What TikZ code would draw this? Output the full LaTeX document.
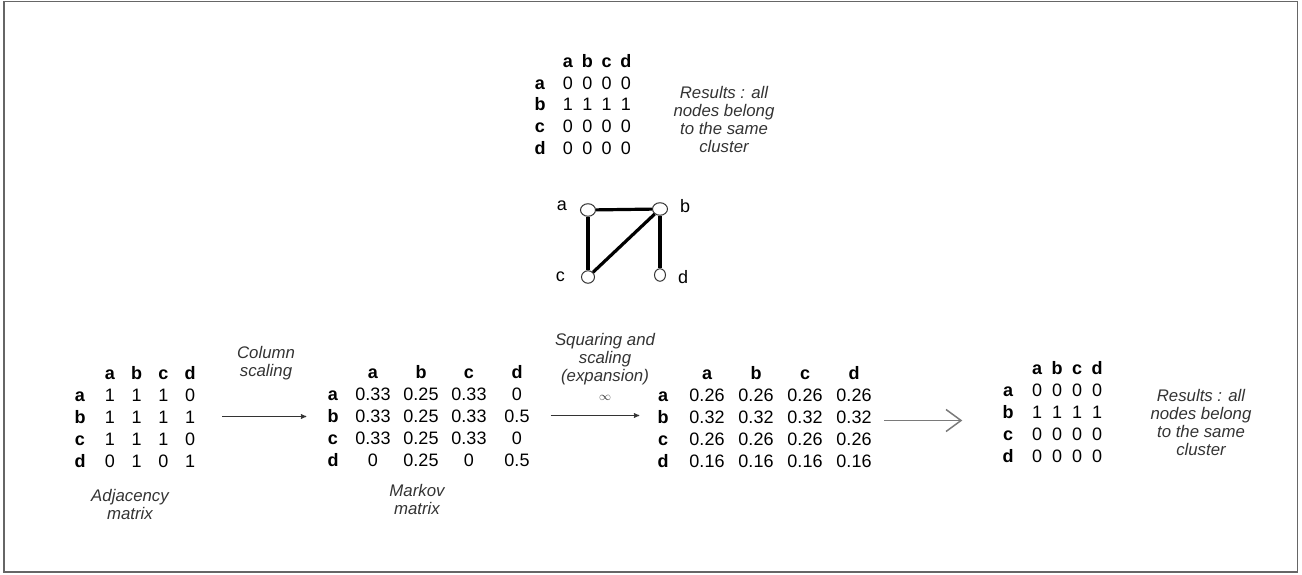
\documentclass[tikz,border=0pt]{standalone}
\usepackage{fontspec}
\setmainfont{Liberation Sans}
\usepackage{tikz}
\usetikzlibrary{positioning}
\usetikzlibrary{arrows,arrows.meta,matrix,shapes.geometric}

\definecolor{txtgray}{HTML}{333333}
\definecolor{arrgray}{HTML}{7A7A7A}
\newcommand{\matfont}{\fontsize{18}{20}\selectfont}
\newcommand{\lblfont}{\fontsize{16.8}{18}\selectfont\itshape}

\tikzset{
  mat/.style={matrix of nodes, row sep={22pt,between origins},
    nodes={anchor=base, inner sep=0pt, text height=13pt, text depth=0pt, font=\matfont},
    row 1/.style={nodes={font=\matfont\bfseries}},
    column 1/.style={nodes={font=\matfont\bfseries}}},
  lbl/.style={font=\lblfont, text=txtgray, align=center},
  vtx/.style={ellipse, draw=txtgray, line width=1pt, minimum width=15pt, minimum height=12.5pt, inner sep=0pt},
  vlab/.style={font=\matfont, inner sep=0pt},
  link/.style={line width=3.2pt, black},
  scl/.style={->, draw=txtgray, line width=1pt}
}

\begin{document}
\begin{tikzpicture}[x=1pt,y=-1pt,>=stealth']
\useasboundingbox (0,0) rectangle (1302,575);
\draw[draw=gray!80!black, line width=1.6pt] (4,1.5) rectangle (1297.5,572);

% result on top
\matrix (res1) [mat, column sep={19.3pt,between origins}, matrix anchor=res1-2-2.base] at (568,89) {
    &[8.7pt] a & b & c & d \\
  a & 0 & 0 & 0 & 0 \\
  b & 1 & 1 & 1 & 1 \\
  c & 0 & 0 & 0 & 0 \\
  d & 0 & 0 & 0 & 0 \\
};
\node[lbl] (reslbl1) at (724,119) {Results : all\\nodes belong\\to the same\\cluster};

% the graph
\node[vtx] (ga) at (588,210) {};
\node[vtx] (gb) at (660,209) {};
\node[vtx, minimum width=13pt] (gc) at (588,277) {};
\node[vtx, minimum width=11pt] (gd) at (660,275) {};
\node[vlab, left=13pt of ga, yshift=4pt] (la) {a};
\node[vlab, right=12pt of gb, yshift=3pt] (lb) {b};
\node[vlab, left=16pt of gc] (lc) {c};
\node[vlab, right=12pt of gd, yshift=-2pt] (ld) {d};
\draw[link] (ga) -- (gb);
\draw[link] (ga) -- (gc);
\draw[link] (gb) -- (gc);
\draw[link] (gb) -- (gd);

% adjacency matrix
\matrix (adj) [mat, column sep={26.7pt,between origins}, matrix anchor=adj-2-2.base] at (110,401) {
    &[3.3pt] a & b & c & d \\
  a & 1 & 1 & 1 & 0 \\
  b & 1 & 1 & 1 & 1 \\
  c & 1 & 1 & 1 & 0 \\
  d & 0 & 1 & 0 & 1 \\
};
\node[lbl] (adjlbl) at (130,504) {Adjacency\\matrix};

% markov matrix
\matrix (mk) [mat, column sep={48pt,between origins}, matrix anchor=mk-2-2.base] at (373,400) {
    &[-8pt] a & b & c & d \\
  a & 0.33 & 0.25 & 0.33 & 0 \\
  b & 0.33 & 0.25 & 0.33 & 0.5 \\
  c & 0.33 & 0.25 & 0.33 & 0 \\
  d & 0 & 0.25 & 0 & 0.5 \\
};
\node[lbl] (mklbl) at (417,499) {Markov\\matrix};

% expansion
\matrix (ex) [mat, column sep={49pt,between origins}, matrix anchor=ex-2-2.base] at (707,401) {
    &[-5pt] a & b & c & d \\
  a & 0.26 & 0.26 & 0.26 & 0.26 \\
  b & 0.32 & 0.32 & 0.32 & 0.32 \\
  c & 0.26 & 0.26 & 0.26 & 0.26 \\
  d & 0.16 & 0.16 & 0.16 & 0.16 \\
};

% final result
\matrix (res2) [mat, column sep={20pt,between origins}, matrix anchor=res2-2-2.base] at (1037,396) {
    &[9pt] a & b & c & d \\
  a & 0 & 0 & 0 & 0 \\
  b & 1 & 1 & 1 & 1 \\
  c & 0 & 0 & 0 & 0 \\
  d & 0 & 0 & 0 & 0 \\
};
\node[lbl] (reslbl2) at (1201,422) {Results : all\\nodes belong\\to the same\\cluster};

% steps
\draw[scl, shorten <=27pt, shorten >=21pt] (adj-3-5.east) -- (adj-3-5.east -| mk-3-1.west);
\node[lbl] (colsc) at (266,363) {Column\\scaling};
\draw[scl, shorten <=21pt, shorten >=18pt] (mk-3-5.east) -- (mk-3-5.east -| ex-3-1.west);
\node[lbl] (sqsc) at (605,367) {Squaring and\\scaling\\(expansion)\\[1pt]{\fontsize{12}{12}\selectfont$\infty$}};
\draw[-{Straight Barb[length=15pt,width=22pt]}, draw=arrgray, line width=1.5pt, shorten <=12.5pt, shorten >=40pt]
  ([yshift=-4pt]ex-3-5.east) -- ([yshift=-4pt]ex-3-5.east -| res2-3-1.west);
\end{tikzpicture}
\end{document}
